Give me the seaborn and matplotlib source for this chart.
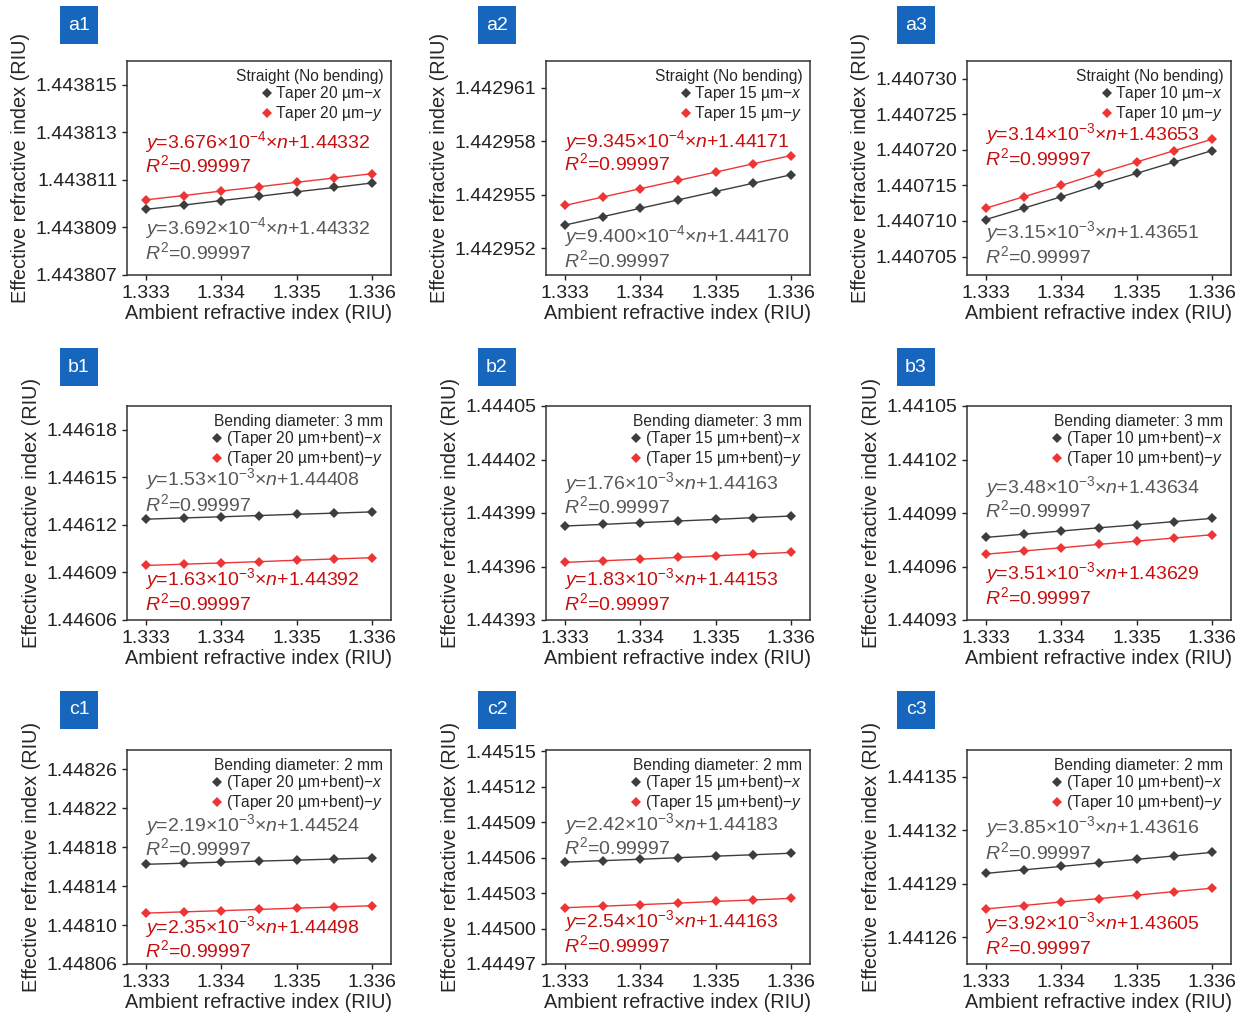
import numpy as np
import pandas as pd
import seaborn as sns
import matplotlib.pyplot as plt
from matplotlib.lines import Line2D
from matplotlib.patches import Rectangle

sns.set_style('ticks')
plt.rcParams['font.family'] = ['Liberation Sans', 'DejaVu Sans']
plt.rcParams['mathtext.fontset'] = 'custom'
plt.rcParams['mathtext.rm'] = 'Liberation Sans'
plt.rcParams['mathtext.it'] = 'Liberation Sans:italic'

# ambient refractive index (x axis)
n_vals = [1.333, 1.3335, 1.334, 1.3345, 1.335, 1.3355, 1.336]

# effective index, x- and y-polarisation
a1_x = [1.44380976, 1.44380994, 1.44381013, 1.44381031, 1.44381050, 1.44381068, 1.44381087]
a1_y = [1.44381016, 1.44381034, 1.44381053, 1.44381071, 1.44381090, 1.44381108, 1.44381126]
a2_x = [1.44295330, 1.44295377, 1.44295424, 1.44295471, 1.44295518, 1.44295565, 1.44295612]
a2_y = [1.44295440, 1.44295487, 1.44295534, 1.44295580, 1.44295627, 1.44295674, 1.44295720]
a3_x = [1.4407102, 1.4407118, 1.4407134, 1.4407151, 1.4407167, 1.4407183, 1.4407199]
a3_y = [1.4407118, 1.4407134, 1.4407150, 1.4407167, 1.4407183, 1.4407199, 1.4407215]
b1_x = [1.4461236, 1.4461244, 1.4461251, 1.4461259, 1.4461267, 1.4461274, 1.4461282]
b1_y = [1.4460944, 1.4460952, 1.4460960, 1.4460968, 1.4460977, 1.4460985, 1.4460993]
b2_x = [1.4439827, 1.4439836, 1.4439846, 1.4439855, 1.4439864, 1.4439874, 1.4439883]
b2_y = [1.4439623, 1.4439632, 1.4439641, 1.4439651, 1.4439660, 1.4439670, 1.4439679]
b3_x = [1.4409763, 1.4409781, 1.4409799, 1.4409817, 1.4409834, 1.4409852, 1.4409870]
b3_y = [1.4409669, 1.4409687, 1.4409705, 1.4409724, 1.4409742, 1.4409760, 1.4409778]
c1_x = [1.4481625, 1.4481636, 1.4481647, 1.4481658, 1.4481668, 1.4481679, 1.4481690]
c1_y = [1.4481123, 1.4481136, 1.4481148, 1.4481161, 1.4481174, 1.4481186, 1.4481199]
c2_x = [1.4450561, 1.4450574, 1.4450586, 1.4450599, 1.4450612, 1.4450624, 1.4450637]
c2_y = [1.4450176, 1.4450189, 1.4450202, 1.4450215, 1.4450229, 1.4450242, 1.4450255]
c3_x = [1.4412958, 1.4412978, 1.4412997, 1.4413017, 1.4413037, 1.4413056, 1.4413076]
c3_y = [1.4412759, 1.4412778, 1.4412798, 1.4412817, 1.4412836, 1.4412856, 1.4412875]

# y tick values per panel
a1_ticks = [1.443807, 1.443809, 1.443811, 1.443813, 1.443815]
a2_ticks = [1.442952, 1.442955, 1.442958, 1.442961]
a3_ticks = [1.440705, 1.440710, 1.440715, 1.440720, 1.440725, 1.440730]
b1_ticks = [1.44606, 1.44609, 1.44612, 1.44615, 1.44618]
b2_ticks = [1.44393, 1.44396, 1.44399, 1.44402, 1.44405]
b3_ticks = [1.44093, 1.44096, 1.44099, 1.44102, 1.44105]
c1_ticks = [1.44806, 1.44810, 1.44814, 1.44818, 1.44822, 1.44826]
c2_ticks = [1.44497, 1.44500, 1.44503, 1.44506, 1.44509, 1.44512, 1.44515]
c3_ticks = [1.44126, 1.44129, 1.44132, 1.44135]
x_ticks = [1.333, 1.334, 1.335, 1.336]

# fit equations (slope mantissa, exponent, intercept)
a1_fit = [('3.692', '-4', '1.44332'), ('3.676', '-4', '1.44332')]
a2_fit = [('9.400', '-4', '1.44170'), ('9.345', '-4', '1.44171')]
a3_fit = [('3.15', '-3', '1.43651'), ('3.14', '-3', '1.43653')]
b1_fit = [('1.53', '-3', '1.44408'), ('1.63', '-3', '1.44392')]
b2_fit = [('1.76', '-3', '1.44163'), ('1.83', '-3', '1.44153')]
b3_fit = [('3.48', '-3', '1.43634'), ('3.51', '-3', '1.43629')]
c1_fit = [('2.19', '-3', '1.44524'), ('2.35', '-3', '1.44498')]
c2_fit = [('2.42', '-3', '1.44183'), ('2.54', '-3', '1.44163')]
c3_fit = [('3.85', '-3', '1.43616'), ('3.92', '-3', '1.43605')]

tapers = ['20', '15', '10']
row_titles = ['Straight (No bending)', 'Bending diameter: 3 mm', 'Bending diameter: 2 mm']

GRAY_M, GRAY_T = '#3d3d3d', '#585858'
RED_M, RED_T = '#ee3535', '#c80f0f'

# panel layout / styling
panels = [
    ('a1', a1_x, a1_y, a1_ticks, (1.443807, 1.443816), 6, a1_fit, [(0.22, 0.107), (0.622, 0.515)]),
    ('a2', a2_x, a2_y, a2_ticks, (1.4429505, 1.4429625), 6, a2_fit, [(0.182, 0.07), (0.626, 0.524)]),
    ('a3', a3_x, a3_y, a3_ticks, (1.4407024, 1.4407325), 6, a3_fit, [(0.20, 0.089), (0.658, 0.547)]),
    ('b1', b1_x, b1_y, b1_ticks, (1.44606, 1.446195), 5, b1_fit, [(0.658, 0.543), (0.19, 0.079)]),
    ('b2', b2_x, b2_y, b2_ticks, (1.44393, 1.44405), 5, b2_fit, [(0.64, 0.533), (0.19, 0.079)]),
    ('b3', b3_x, b3_y, b3_ticks, (1.44093, 1.44105), 5, b3_fit, [(0.62, 0.514), (0.22, 0.107)]),
    ('c1', c1_x, c1_y, c1_ticks, (1.44806, 1.44828), 5, c1_fit, [(0.65, 0.54), (0.173, 0.065)]),
    ('c2', c2_x, c2_y, c2_ticks, (1.44497, 1.445151), 5, c2_fit, [(0.655, 0.548), (0.201, 0.089)]),
    ('c3', c3_x, c3_y, c3_ticks, (1.441245, 1.441365), 5, c3_fit, [(0.64, 0.523), (0.192, 0.079)]),
]

W, H = 1247, 1014
fig = plt.figure(figsize=(W / 100, H / 100), dpi=100)

col_left = [127, 546, 967]
row_top = [61, 406, 750]
ax_w, ax_h = 264, 214
label_left = [60, 478, 897]
label_top = [6, 348, 691]

for i, (name, sx, sy, yt, ylim, dec, fits, txt_pos) in enumerate(panels):
    r, c = divmod(i, 3)
    ax = fig.add_axes([col_left[c] / W, 1 - (row_top[r] + ax_h) / H, ax_w / W, ax_h / H])
    df = pd.DataFrame({'n': n_vals * 2, 'neff': sx + sy,
                       'pol': ['x'] * len(sx) + ['y'] * len(sy)})
    sns.lineplot(data=df, x='n', y='neff', hue='pol', palette={'x': GRAY_M, 'y': RED_M},
                 marker='D', markersize=5, markeredgewidth=0, linewidth=1,
                 legend=False, ax=ax)

    ax.set_xlim(1.33275, 1.33625)
    ax.set_ylim(*ylim)
    ax.set_xticks(x_ticks)
    ax.set_xticklabels([f'{t:.3f}' for t in x_ticks])
    ax.set_yticks(yt)
    ax.set_yticklabels([f'{t:.{dec}f}' for t in yt])
    ax.tick_params(direction='out', length=3.5, width=1, labelsize=14, colors='#222222')
    for sp in ax.spines.values():
        sp.set_visible(True)
        sp.set_linewidth(1.1)
        sp.set_color('#333333')
    ax.set_xlabel('Ambient refractive index (RIU)', fontsize=14.3, labelpad=2)
    ax.set_ylabel('Effective refractive index (RIU)', fontsize=14.3, labelpad=4)

    # legend (markers only)
    taper = tapers[c]
    if r == 0:
        labs = [f'Taper {taper} µm−$x$', f'Taper {taper} µm−$y$']
    else:
        labs = [f'(Taper {taper} µm+bent)−$x$', f'(Taper {taper} µm+bent)−$y$']
    handles = [Line2D([], [], ls='none', marker='D', markersize=5, markeredgewidth=0, color=GRAY_M),
               Line2D([], [], ls='none', marker='D', markersize=5, markeredgewidth=0, color=RED_M)]
    ax.legend(handles, labs, title=row_titles[r], loc='upper right', frameon=False,
              fontsize=11.2, title_fontsize=11.2, alignment='right',
              handlelength=0.5, handletextpad=0.3, labelspacing=0.04,
              borderaxespad=0.1, borderpad=0.4)

    # fit equations
    for (m, e, b), (ye, yr), col in zip(fits, txt_pos, [GRAY_T, RED_T]):
        ax.text(0.07, ye, f'$y$={m}×10$^{{{e}}}$×$n$+{b}', transform=ax.transAxes,
                fontsize=14, color=col, ha='left', va='center')
        ax.text(0.07, yr, '$R^{\\mathrm{2}}$=0.99997', transform=ax.transAxes,
                fontsize=14, color=col, ha='left', va='center')

    # panel tag
    lx, ly = label_left[c], label_top[r]
    fig.patches.append(Rectangle((lx / W, 1 - (ly + 38) / H), 38 / W, 38 / H,
                                 transform=fig.transFigure, facecolor='#1766be',
                                 edgecolor='none'))
    fig.text((lx + 19) / W, 1 - (ly + 19) / H, name, color='white', fontsize=14,
             ha='center', va='center')

fig.savefig('out.png', dpi=100)
